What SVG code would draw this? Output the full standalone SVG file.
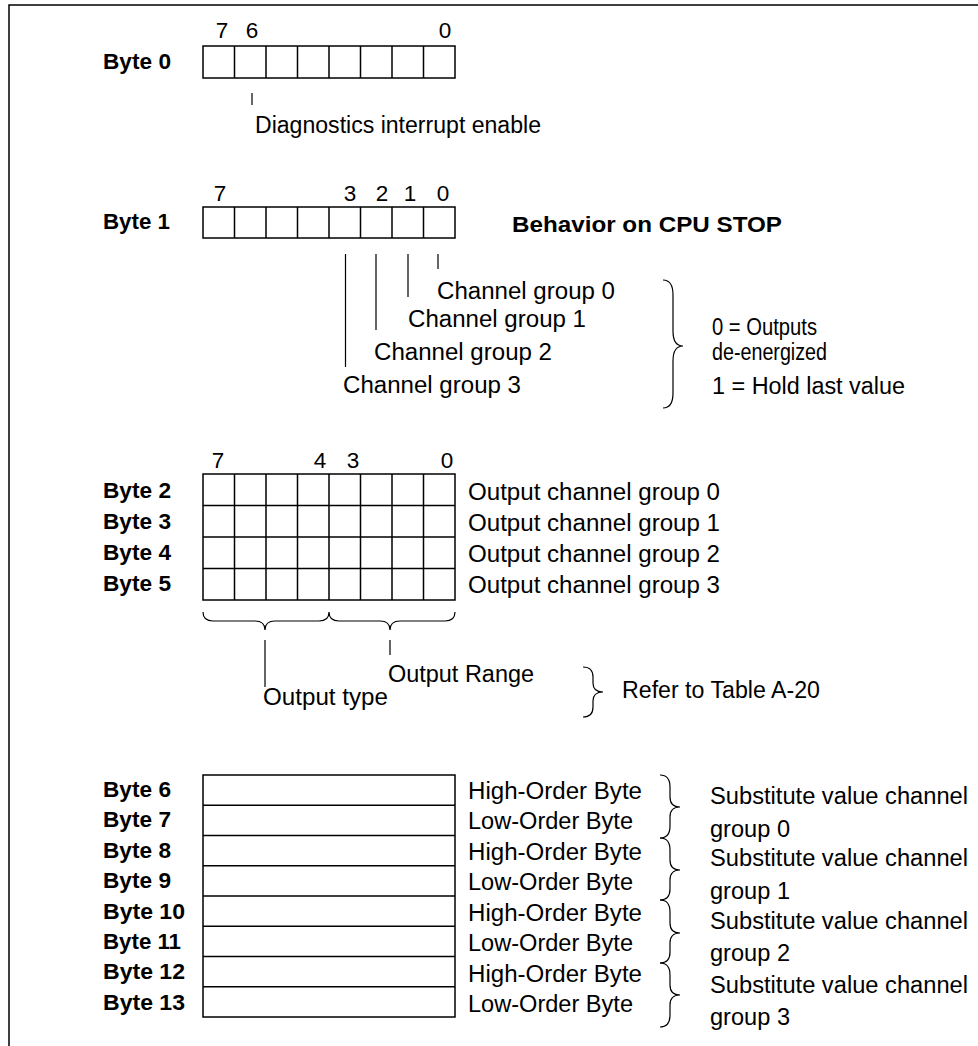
<svg xmlns="http://www.w3.org/2000/svg" width="978" height="1046" viewBox="0 0 978 1046">
<style>
  text { font-family: "Liberation Sans", Arial, sans-serif; fill: #000; }
  .r { font-size: 23.5px; }
  .b { font-size: 21.5px; font-weight: bold; }
  .n { font-size: 22.5px; text-anchor: middle; }
  .box { fill: #fff; stroke: #000; stroke-width: 1.5; }
  .ln { stroke: #000; stroke-width: 1.5; fill: none; }
  .th { stroke: #000; stroke-width: 1.2; fill: none; }
</style>
<rect width="978" height="1046" fill="#fff"/>
<path class="ln" d="M9,1046 V5 H978"/>

<g id="byte0">
  <text class="b" x="103" y="69" textLength="68" lengthAdjust="spacingAndGlyphs">Byte 0</text>
  <rect class="box" x="203" y="46" width="252" height="32"/>
  <path class="ln" d="M234.5,46V78M266,46V78M297.5,46V78M329,46V78M360.5,46V78M392,46V78M423.5,46V78"/>
  <text class="n" x="222" y="38">7</text>
  <text class="n" x="252" y="38">6</text>
  <text class="n" x="445" y="38">0</text>
</g>
<g id="diag-label">
  <text class="r" x="255" y="133" textLength="286" lengthAdjust="spacingAndGlyphs">Diagnostics interrupt enable</text>
</g>

<g id="byte1">
  <text class="b" x="103" y="229" textLength="67" lengthAdjust="spacingAndGlyphs">Byte 1</text>
  <rect class="box" x="203" y="207" width="252" height="31"/>
  <path class="ln" d="M234.5,207V238M266,207V238M297.5,207V238M329,207V238M360.5,207V238M392,207V238M423.5,207V238"/>
  <text class="n" x="220" y="201">7</text>
  <text class="n" x="350" y="201">3</text>
  <text class="n" x="382" y="201">2</text>
  <text class="n" x="410" y="201">1</text>
  <text class="n" x="443" y="201">0</text>
</g>
<g id="behavior-title">
  <text class="b" x="512" y="232" textLength="270" lengthAdjust="spacingAndGlyphs">Behavior on CPU STOP</text>
</g>
<g id="channel-groups">
  <text class="r" x="437" y="299" textLength="178" lengthAdjust="spacingAndGlyphs">Channel group 0</text>
  <text class="r" x="408" y="327" textLength="178" lengthAdjust="spacingAndGlyphs">Channel group 1</text>
  <text class="r" x="374" y="360" textLength="178" lengthAdjust="spacingAndGlyphs">Channel group 2</text>
  <text class="r" x="343" y="393" textLength="178" lengthAdjust="spacingAndGlyphs">Channel group 3</text>
</g>
<g id="behavior-values">
  <text class="r" x="712" y="335" textLength="105" lengthAdjust="spacingAndGlyphs">0 = Outputs</text>
  <text class="r" x="712" y="360" textLength="115" lengthAdjust="spacingAndGlyphs">de-energized</text>
  <text class="r" x="712" y="394" textLength="193" lengthAdjust="spacingAndGlyphs">1 = Hold last value</text>
</g>

<g id="bytes2-5">
  <text class="b" x="103" y="498" textLength="68" lengthAdjust="spacingAndGlyphs">Byte 2</text>
  <text class="b" x="103" y="529" textLength="68" lengthAdjust="spacingAndGlyphs">Byte 3</text>
  <text class="b" x="103" y="560" textLength="68" lengthAdjust="spacingAndGlyphs">Byte 4</text>
  <text class="b" x="103" y="591" textLength="68" lengthAdjust="spacingAndGlyphs">Byte 5</text>
  <rect class="box" x="203" y="474" width="252" height="126"/>
  <path class="ln" d="M234.5,474V600M266,474V600M297.5,474V600M329,474V600M360.5,474V600M392,474V600M423.5,474V600M203,505.5H455M203,537H455M203,568.5H455"/>
  <text class="n" x="218" y="468">7</text>
  <text class="n" x="320" y="468">4</text>
  <text class="n" x="353" y="468">3</text>
  <text class="n" x="447" y="468">0</text>
  <text class="r" x="468" y="500" textLength="252" lengthAdjust="spacingAndGlyphs">Output channel group 0</text>
  <text class="r" x="468" y="531" textLength="252" lengthAdjust="spacingAndGlyphs">Output channel group 1</text>
  <text class="r" x="468" y="562" textLength="252" lengthAdjust="spacingAndGlyphs">Output channel group 2</text>
  <text class="r" x="468" y="593" textLength="252" lengthAdjust="spacingAndGlyphs">Output channel group 3</text>
</g>
<g id="output-labels">
  <text class="r" x="388" y="682" textLength="146" lengthAdjust="spacingAndGlyphs">Output Range</text>
  <text class="r" x="263" y="705" textLength="125" lengthAdjust="spacingAndGlyphs">Output type</text>
  <text class="r" x="622" y="698" textLength="198" lengthAdjust="spacingAndGlyphs">Refer to Table A-20</text>
</g>

<g id="bytes6-13">
  <text class="b" x="103" y="797" textLength="68" lengthAdjust="spacingAndGlyphs">Byte 6</text>
  <text class="b" x="103" y="827" textLength="68" lengthAdjust="spacingAndGlyphs">Byte 7</text>
  <text class="b" x="103" y="858" textLength="68" lengthAdjust="spacingAndGlyphs">Byte 8</text>
  <text class="b" x="103" y="888" textLength="68" lengthAdjust="spacingAndGlyphs">Byte 9</text>
  <text class="b" x="103" y="919" textLength="82" lengthAdjust="spacingAndGlyphs">Byte 10</text>
  <text class="b" x="103" y="949" textLength="78" lengthAdjust="spacingAndGlyphs">Byte 11</text>
  <text class="b" x="103" y="979" textLength="82" lengthAdjust="spacingAndGlyphs">Byte 12</text>
  <text class="b" x="103" y="1010" textLength="82" lengthAdjust="spacingAndGlyphs">Byte 13</text>
  <rect class="box" x="203" y="775" width="252" height="242"/>
  <path class="ln" d="M203,805.25H455M203,835.5H455M203,865.75H455M203,896H455M203,926.25H455M203,956.5H455M203,986.75H455"/>
  <text class="r" x="468" y="799" textLength="174" lengthAdjust="spacingAndGlyphs">High-Order Byte</text>
  <text class="r" x="468" y="829" textLength="165" lengthAdjust="spacingAndGlyphs">Low-Order Byte</text>
  <text class="r" x="468" y="860" textLength="174" lengthAdjust="spacingAndGlyphs">High-Order Byte</text>
  <text class="r" x="468" y="890" textLength="165" lengthAdjust="spacingAndGlyphs">Low-Order Byte</text>
  <text class="r" x="468" y="921" textLength="174" lengthAdjust="spacingAndGlyphs">High-Order Byte</text>
  <text class="r" x="468" y="951" textLength="165" lengthAdjust="spacingAndGlyphs">Low-Order Byte</text>
  <text class="r" x="468" y="982" textLength="174" lengthAdjust="spacingAndGlyphs">High-Order Byte</text>
  <text class="r" x="468" y="1012" textLength="165" lengthAdjust="spacingAndGlyphs">Low-Order Byte</text>
</g>
<g id="substitute-labels">
  <text class="r" x="710" y="804" textLength="258" lengthAdjust="spacingAndGlyphs">Substitute value channel</text>
  <text class="r" x="710" y="837" textLength="80" lengthAdjust="spacingAndGlyphs">group 0</text>
  <text class="r" x="710" y="866" textLength="258" lengthAdjust="spacingAndGlyphs">Substitute value channel</text>
  <text class="r" x="710" y="899" textLength="80" lengthAdjust="spacingAndGlyphs">group 1</text>
  <text class="r" x="710" y="929" textLength="258" lengthAdjust="spacingAndGlyphs">Substitute value channel</text>
  <text class="r" x="710" y="961" textLength="80" lengthAdjust="spacingAndGlyphs">group 2</text>
  <text class="r" x="710" y="993" textLength="258" lengthAdjust="spacingAndGlyphs">Substitute value channel</text>
  <text class="r" x="710" y="1025" textLength="80" lengthAdjust="spacingAndGlyphs">group 3</text>
</g>

<g id="connectors">
  <path class="th" d="M252,93V105"/>
  <path class="th" d="M345.5,254V367M376,254V330M408,254V297M438,254V269"/>
  <path class="th" d="M265,640V687M390,640V655"/>
  <path class="th" d="M663,280Q673,280 673,295V331Q673,346 683,346Q673,346 673,361V393Q673,408 663,408"/>
  <path class="th" d="M203,612Q203,621 213,621H255Q265,621 265,630Q265,621 275,621H319Q329,621 329,612Q329,621 339,621H380Q390,621 390,630Q390,621 400,621H445Q455,621 455,612"/>
  <path class="th" d="M583,667Q593,667 593,677V683Q593,692 603,692Q593,692 593,701V707Q593,717 583,717"/>
  <path class="th" d="M660,775Q670,775 670,787V797Q670,807 680,807Q670,807 670,817V826Q670,838 660,838"/>
  <path class="th" d="M660,838Q670,838 670,850V860Q670,870 680,870Q670,870 670,880V889Q670,900 660,900"/>
  <path class="th" d="M660,900Q670,900 670,912V923Q670,933 680,933Q670,933 670,943V952Q670,963 660,963"/>
  <path class="th" d="M660,963Q670,963 670,975V985Q670,995 680,995Q670,995 670,1005V1015Q670,1027 660,1027"/>
</g>
</svg>
